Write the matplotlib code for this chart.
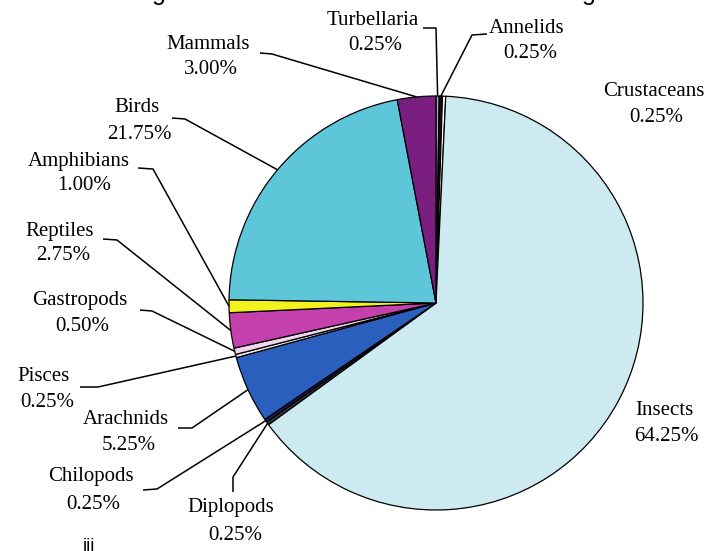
import matplotlib
matplotlib.use("Agg")
import matplotlib.pyplot as plt
import numpy as np

# ---------------- data ----------------
categories = ["Turbellaria", "Annelids", "Crustaceans", "Insects", "Diplopods",
              "Chilopods", "Arachnids", "Pisces", "Gastropods", "Reptiles",
              "Amphibians", "Birds", "Mammals"]
percent = [0.25, 0.25, 0.25, 64.25, 0.25, 0.25, 5.25, 0.25, 0.50, 2.75,
           1.00, 21.75, 3.00]
pct_labels = ["0.25%", "0.25%", "0.25%", "64.25%", "0.25%", "0.25%", "5.25%",
              "0.25%", "0.50%", "2.75%", "1.00%", "21.75%", "3.00%"]
colors = ["#b4a6d2", "#111111", "#ffffff", "#cdeaf1", "#3a3a3a", "#1c1c5e",
          "#2b5fbd", "#f4f0f6", "#f2d6ee", "#c441ad", "#f2f21e", "#5ec6d9",
          "#7a1e80"]

# ---------------- layout (pixel coords, origin top-left) ----------------
W, H = 720, 551
CX, CY, R = 436, 303, 207
# name baseline (x_center, y), pct baseline (x_center, y)
label_pos = {
    "Turbellaria": ((373, 25), (375, 50)),
    "Annelids":    ((527, 33), (530, 58)),
    "Crustaceans": ((654, 96), (656, 122)),
    "Insects":     ((664, 415), (666, 441)),
    "Diplopods":   ((231, 512), (235, 540)),
    "Chilopods":   ((91, 481), (93, 509)),
    "Arachnids":   ((126, 424), (129, 450)),
    "Pisces":      ((43, 381), (47, 407)),
    "Gastropods":  ((80, 305), (82, 331)),
    "Reptiles":    ((60, 236), (63, 260)),
    "Amphibians":  ((79, 166), (84, 190)),
    "Birds":       ((137, 112), (139, 139)),
    "Mammals":     ((208, 49), (211, 74)),
}
# leader: start point and elbow point (pixels); end is on the wedge
leaders = {
    "Turbellaria": ((423, 28), (436, 28)),
    "Annelids":    ((487, 34), (472, 35)),
    "Mammals":     ((260, 53), (272, 54)),
    "Birds":       ((172, 118), (185, 119)),
    "Amphibians":  ((138, 168), (153, 169)),
    "Reptiles":    ((103, 239), (117, 240)),
    "Gastropods":  ((140, 310), (152, 311)),
    "Pisces":      ((80, 387), (98, 387)),
    "Arachnids":   ((178, 428), (192, 428)),
    "Chilopods":   ((143, 490), (157, 489)),
    "Diplopods":   ((233, 492), (233, 477)),
}


def P(x, y):
    return x, H - y


fig = plt.figure(figsize=(7.2, 5.51), dpi=100)
ax = fig.add_axes([0, 0, 1, 1])

wedges, _ = ax.pie(percent, colors=colors, startangle=90, counterclock=False,
                   center=P(CX, CY), radius=R, frame=True,
                   wedgeprops=dict(edgecolor="black", linewidth=0.9))
ax.set_xlim(0, W)
ax.set_ylim(0, H)
ax.set_aspect("equal")
ax.axis("off")

font = dict(family="Liberation Serif", fontsize=15, color="black")
for name, pct in zip(categories, pct_labels):
    (nx, ny), (px, py) = label_pos[name]
    ax.text(*P(nx, ny), name, ha="center", va="baseline", **font)
    ax.text(*P(px, py), pct, ha="center", va="baseline", **font)

cx, cy = P(CX, CY)
for w, name in zip(wedges, categories):
    if name not in leaders:
        continue
    mid = np.deg2rad((w.theta1 + w.theta2) / 2)
    ex, ey = cx + w.r * np.cos(mid), cy + w.r * np.sin(mid)
    (sx, sy), (bx, by) = leaders[name]
    xs = [sx, bx]
    ys = [H - sy, H - by]
    ax.plot(xs + [ex], ys + [ey], color="black", lw=1.1,
            solid_capstyle="butt", zorder=5)

# partially cropped title / caption fragments (cropped in the reference too)
ax.text(*P(159, 0), "g", ha="center", va="baseline", family="Liberation Sans",
        fontsize=18, clip_on=False)
ax.text(*P(589, 0), "g", ha="center", va="baseline", family="Liberation Sans",
        fontsize=18, clip_on=False)
ax.text(*P(89, 538), "iii", ha="center", va="top", family="Liberation Sans",
        fontsize=13, clip_on=False)

fig.savefig("out.png", dpi=100, facecolor="white")
